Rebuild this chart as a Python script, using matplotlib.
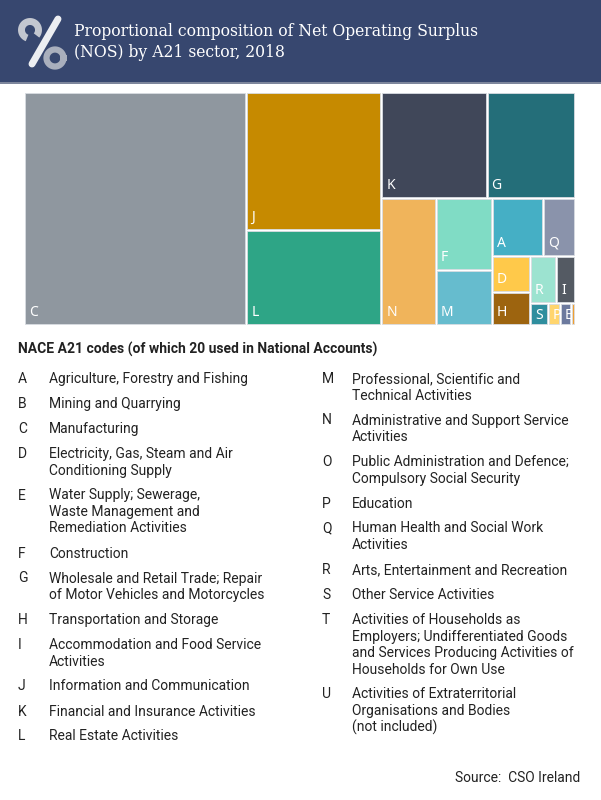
import matplotlib
matplotlib.use("Agg")
import matplotlib.pyplot as plt
from matplotlib.patches import Rectangle
from matplotlib import font_manager
import numpy as np

# NOS share by A21 sector, 2018 (percent)
codes = ["C", "J", "L", "K", "G", "N", "F", "M", "A", "Q",
         "D", "H", "R", "I", "S", "P", "E", "B"]
shares = [40.3, 14.5, 10.0, 8.7, 7.3, 5.4, 3.15, 2.4, 2.3, 1.45,
          1.08, 0.98, 0.96, 0.7, 0.31, 0.2, 0.19, 0.07]
colors = ["#8f979f", "#c68a00", "#2ea586", "#404759", "#246e79", "#f0b45b",
          "#80dcc5", "#66bcce", "#45afc5", "#8a93ab", "#ffc94a", "#9d640f",
          "#9ce3d0", "#545a63", "#2f8e9e", "#ffd56e", "#6c7a9e", "#f0a030"]
# how many cells go into each strip of the layout
strips = [1, 2, 2, 1, 2, 2, 2, 2, 1, 1, 2]

left_codes = ["A", "B", "C", "D", "E", "F", "G", "H", "I", "J", "K", "L"]
left_names = [
    "Agriculture, Forestry and Fishing",
    "Mining and Quarrying",
    "Manufacturing",
    "Electricity, Gas, Steam and Air\nConditioning Supply",
    "Water Supply; Sewerage,\nWaste Management and\nRemediation Activities",
    "Construction",
    "Wholesale and Retail Trade; Repair\nof Motor Vehicles and Motorcycles",
    "Transportation and Storage",
    "Accommodation and Food Service\nActivities",
    "Information and Communication",
    "Financial and Insurance Activities",
    "Real Estate Activities",
]
right_codes = ["M", "N", "O", "P", "Q", "R", "S", "T", "U"]
right_names = [
    "Professional, Scientific and\nTechnical Activities",
    "Administrative and Support Service\nActivities",
    "Public Administration and Defence;\nCompulsory Social Security",
    "Education",
    "Human Health and Social Work\nActivities",
    "Arts, Entertainment and Recreation",
    "Other Service Activities",
    "Activities of Households as\nEmployers; Undifferentiated Goods\n"
    "and Services Producing Activities of\nHouseholds for Own Use",
    "Activities of Extraterritorial\nOrganisations and Bodies\n(not included)",
]

title = "Proportional composition of Net Operating Surplus\n(NOS) by A21 sector, 2018"
heading = "NACE A21 codes (of which 20 used in National Accounts)"
source = "Source:  CSO Ireland"


def strip_layout(values, groups, x, y, w, h):
    # lay the values out strip by strip, each strip along the shorter side
    rects = []
    i = 0
    for g in groups:
        vals = values[i:i + g]
        s = sum(vals)
        rem = sum(values[i:])
        if w >= h:
            cw = w * s / rem
            yy = y
            for v in vals:
                ch = h * v / s
                rects.append((x, yy, cw, ch))
                yy += ch
            x += cw
            w -= cw
        else:
            rh = h * s / rem
            xx = x
            for v in vals:
                cw = w * v / s
                rects.append((xx, y, cw, rh))
                xx += cw
            y += rh
            h -= rh
        i += g
    return rects


# condensed serif for the title if the system has it
condensed = any(f.name == "DejaVu Serif" and f.stretch == "condensed"
                for f in font_manager.fontManager.ttflist)

fig = plt.figure(figsize=(6.01, 8.0), dpi=100)
ax = fig.add_axes([0, 0, 1, 1])
ax.set_xlim(0, 601)
ax.set_ylim(800, 0)
ax.axis("off")

# header band
ax.add_patch(Rectangle((0, 0), 601, 82, color="#37476f", lw=0))
ax.add_patch(Rectangle((0, 82), 601, 1.5, color="#7d869c", lw=0))

# logo
t = np.linspace(np.radians(-40), np.radians(250), 60)
ax.plot(30 + 8.5 * np.cos(t), 30 - 8.5 * np.sin(t), color="#c3c7d0", lw=5, solid_capstyle="butt")
t = np.linspace(0, 2 * np.pi, 80)
ax.plot(55 + 8.5 * np.cos(t), 58 - 8.5 * np.sin(t), color="#a9afbd", lw=4.5)
ax.plot([32, 58], [64, 19], color="#eceef2", lw=5, solid_capstyle="round")

if condensed:
    ax.text(74, 42, title, color="white", fontsize=12.5, family="DejaVu Serif",
            fontstretch="condensed", va="center", ha="left", linespacing=1.3)
else:
    ax.text(74, 42, title, color="white", fontsize=11.5, family="DejaVu Serif",
            va="center", ha="left", linespacing=1.45)

# treemap
rects = strip_layout(shares, strips, 24.5, 92.5, 550.5, 232.5)
for (x, y, w, h), code, col in zip(rects, codes, colors):
    ax.add_patch(Rectangle((x + 0.9, y + 0.9), w - 1.8, h - 1.8, facecolor=col,
                           edgecolor="#d8dce2", lw=0.6))
    if w > 10 and h > 12:
        off = min(9, max(3, (h - 10) / 2))
        ax.text(x + 5, y + h - off, code, color="white", fontsize=10,
                family="Noto Sans", va="baseline", ha="left")

# legend of codes
txt = dict(fontsize=10, family="Roboto", color="#222222", va="center", ha="left")
ax.text(18, 349, heading, fontweight="bold", **txt)


def code_column(x_code, x_name, y, codes_list, names_list):
    for c, n in zip(codes_list, names_list):
        ax.text(x_code, y, c, **txt)
        lines = n.split("\n")
        for k, line in enumerate(lines):
            ax.text(x_name, y + 16.5 * k, line, **txt)
        y += 25 + 16.5 * (len(lines) - 1)


code_column(18, 49, 379, left_codes, left_names)
code_column(322, 352, 379, right_codes, right_names)

ax.text(580, 778, source, fontsize=10, family="Roboto", color="#222222",
        va="center", ha="right")

fig.savefig("out.png", dpi=100)
